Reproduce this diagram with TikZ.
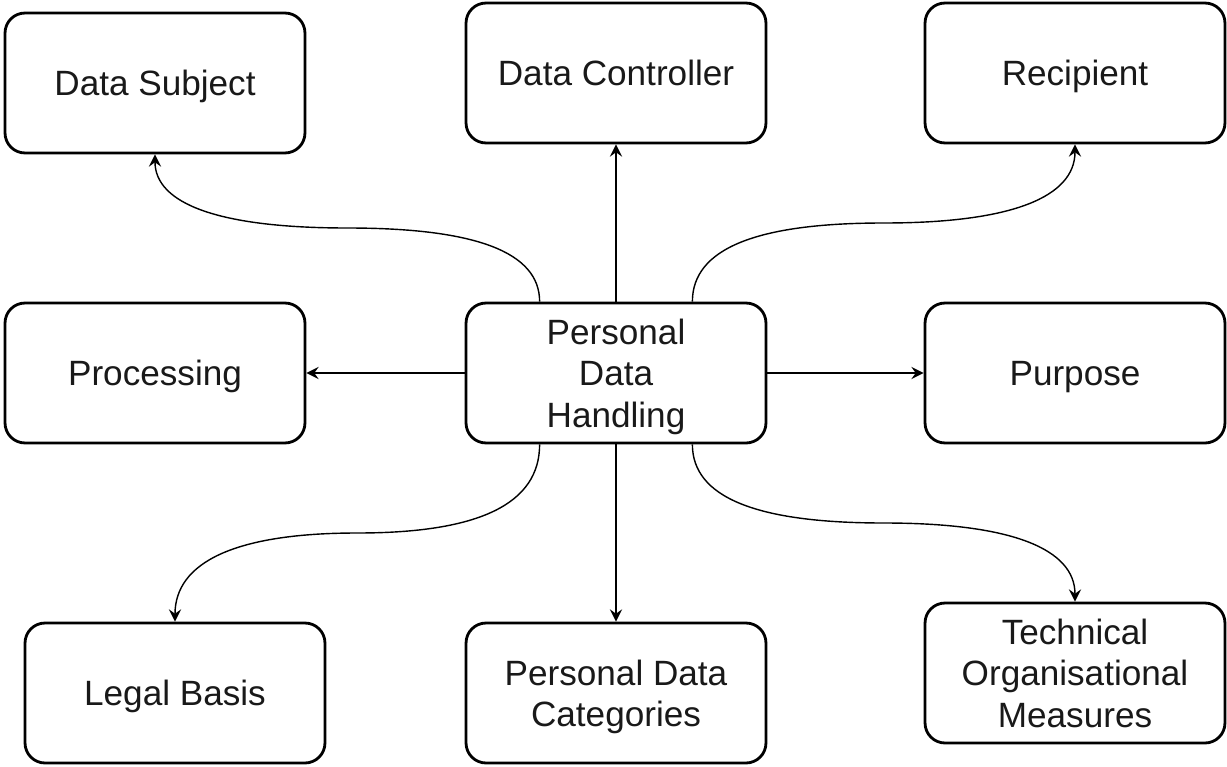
\documentclass[tikz,border=0pt]{standalone}
\usepackage{fontspec}
\setmainfont{Liberation Sans}
\usetikzlibrary{arrows.meta,calc}
\tikzset{
  box/.style={draw, line width=1.6pt, rounded corners=0.4cm, minimum width=6cm,
    minimum height=2.8cm, align=center, text=black!90, text depth=0pt,
    font=\fontsize{20}{23.6}\selectfont},
  link/.style={line width=0.8pt, -{Stealth[length=7pt,width=7pt,inset=2.5pt]}}
}
% curved connector: vertical out, flat middle, vertical in
\newcommand{\bend}[2]{%
  \coordinate (m) at ($(#1)!0.5!(#2)$);
  \draw[link] (#1) .. controls ($(#1)!0.67!(#1 |- m)$) and ($(m)!0.67!(#1 |- m)$) .. (m)
    .. controls ($(m)!0.67!(#2 |- m)$) and ($(#2)!0.67!(#2 |- m)$) .. (#2);
}
\begin{document}
\begin{tikzpicture}[x=0.02cm, y=-0.02cm]
    \useasboundingbox (0,0) rectangle (1227,767);

    % Top row
    \node[box] (subj) at (155,83) {Data Subject};
    \node[box] (ctrl) at (616,73) {Data Controller};
    \node[box] (recip) at (1075,73) {Recipient};

    % Middle row
    \node[box] (proc) at (155,373) {Processing};
    \node[box] (pdh) at (616,373) {Personal\\Data\\Handling};
    \node[box] (purp) at (1075,373) {Purpose};

    % Bottom row
    \node[box] (legal) at (175,693) {Legal Basis};
    \node[box] (cat) at (616,693) {Personal Data\\Categories};
    \node[box] (tom) at (1075,673) {Technical\\Organisational\\Measures};

    % Connectors
    \coordinate (nl) at ([xshift=1.5cm]pdh.north west);
    \coordinate (nr) at ([xshift=-1.5cm]pdh.north east);
    \coordinate (sl) at ([xshift=1.5cm]pdh.south west);
    \coordinate (sr) at ([xshift=-1.5cm]pdh.south east);

    \bend{nl}{subj.south}
    \draw[link] (pdh.north) -- (ctrl.south);
    \bend{nr}{recip.south}
    \draw[link] (pdh.west) -- (proc.east);
    \draw[link] (pdh.east) -- (purp.west);
    \bend{sl}{legal.north}
    \draw[link] (pdh.south) -- (cat.north);
    \bend{sr}{tom.north}
\end{tikzpicture}
\end{document}
